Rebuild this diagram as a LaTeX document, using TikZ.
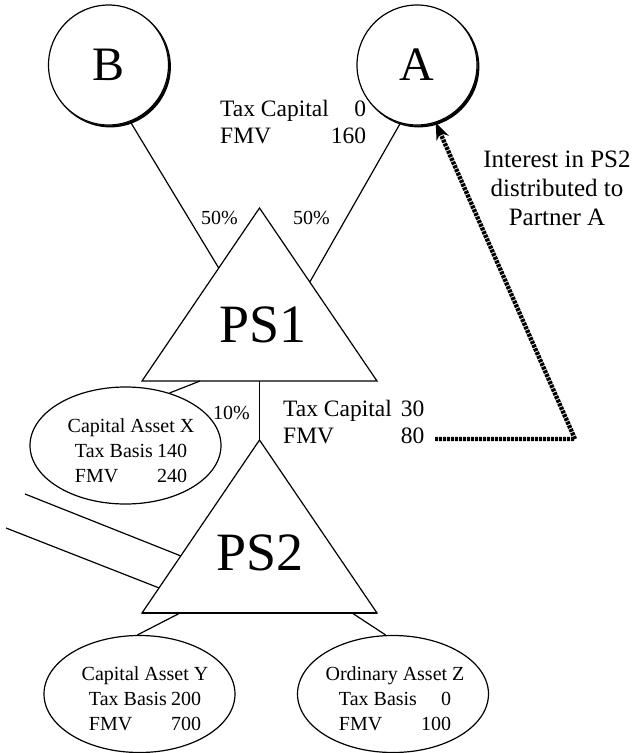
\documentclass[tikz,border=0pt]{standalone}
\usepackage{fontspec}
\setmainfont{Liberation Serif}
\usetikzlibrary{shapes.geometric,calc,arrows.meta}

\tikzset{
  partner/.style={circle, draw, line width=1.2pt, minimum size=120pt, inner sep=0pt,
    font=\fontsize{48}{50}\selectfont},
  asset/.style={ellipse, draw, line width=1.2pt, minimum width=191pt, minimum height=117pt, inner sep=0pt},
  assettext/.style={inner sep=0pt, anchor=base, font=\fontsize{20}{25}\selectfont},
  figtext/.style={inner sep=0pt, anchor=base west, font=\fontsize{23.5}{27}\selectfont},
  notetext/.style={inner sep=0pt, anchor=base, font=\fontsize{25}{29}\selectfont},
  pct/.style={inner sep=0pt, anchor=base west, font=\fontsize{20}{24}\selectfont},
  pslabel/.style={inner sep=0pt, anchor=base, font=\fontsize{54}{60}\selectfont},
  link/.style={line width=1.2pt},
  tri/.style={line width=1.2pt, line join=miter},
  transfer/.style={line width=4.4pt, dash pattern=on 3pt off 1pt,
    -{Stealth[length=17pt,width=13pt]}},
}
% asset card: title centred over a two-column block of figures
\newcommand\assetcard[5]{\begin{tabular}[t]{@{}l@{\hspace{4pt}}r@{}}
  \multicolumn{2}{@{}c@{}}{\makebox[0pt]{#1}}\\ #2 & #3\\ #4 & #5\end{tabular}}

\begin{document}
\begin{tikzpicture}[x=1pt, y=-1pt]
  \useasboundingbox (0,0) rectangle (636,753);

  % partners
  \node[partner] (B) at (108.5,65) {B};
  \node[partner] (A) at (417,65) {A};
  % heavier rim on the lower right of each partner circle
  \foreach \c in {A,B} {
    \begin{scope}
      \clip ($(\c)+(1.8pt,-1.8pt)$) circle[radius=60.6pt];
      \fill[even odd rule] ($(\c)+(1.8pt,-1.8pt)$) circle[radius=62pt]
        (\c) circle[radius=60.4pt];
    \end{scope}
  }

  % partnership triangles
  \coordinate (t1a) at (259.5,208);
  \coordinate (t1l) at (142,381);
  \coordinate (t1r) at (377,381);
  \coordinate (t2a) at (259.5,440);
  \coordinate (t2l) at (142,613);
  \coordinate (t2r) at (377,613);
  \draw[tri] (t1a) -- (t1r) -- (t1l) -- cycle;
  \draw[tri] (t2a) -- (t2r) -- (t2l) -- cycle;
  \draw[line width=2.4pt] (t2l) -- (t2r);
  \node[pslabel] (ps1) at (263,342) {PS1};
  \node[pslabel] (ps2) at (260,570) {PS2};

  % assets
  \node[asset] (X) at (125.5,445.5) {};
  \node[asset] (Y) at (139.5,694) {};
  \node[asset] (Z) at (393,694) {};
  \node[assettext] (Xt) at (131,432) {\assetcard{Capital Asset X}{Tax Basis}{140}{FMV}{240}};
  \node[assettext] (Yt) at (145,680) {\assetcard{Capital Asset Y}{Tax Basis}{200}{FMV}{700}};
  \node[assettext] (Zt) at (395,680) {\assetcard{Ordinary Asset Z}{Tax Basis}{0}{FMV}{100}};

  % ownership links
  \draw[link] (B.-69) -- ($(t1a)!0.347!(t1l)$);
  \draw[link] (A.-106) -- ($(t1a)!0.428!(t1r)$);
  \draw[link] ($(t1l)!0.247!(t1r)$) -- (X.50);
  \draw[link] ($(t1l)!0.5!(t1r)$) -- (t2a);
  \draw[link] ($(t2l)!0.162!(t2r)$) -- (Y.92);
  \draw[link] ($(t2l)!0.894!(t2r)$) -- (Z.97);
  \coordinate (f1) at (25,494);
  \coordinate (f2) at (6,528);
  \draw[link] (f1) -- ($(t2a)!0.67!(t2l)$);
  \draw[link] (f2) -- ($(t2a)!0.855!(t2l)$);

  % percentages and capital accounts
  \node[pct] (p50l) at (201,224) {50\%};
  \node[pct] (p50r) at (293,224) {50\%};
  \node[pct] (p10) at (213,419) {10\%};
  \node[figtext] (capA) at (220,116) {\begin{tabular}[t]{@{}l@{\hspace{2pt}}r@{}}
    Tax Capital & 0\\ FMV & 160\end{tabular}};
  \node[figtext] (capPS2) at (283,416) {\begin{tabular}[t]{@{}l@{\hspace{9pt}}r@{}}
    Tax Capital & 30\\ FMV & 80\end{tabular}};

  % distribution of the PS2 interest
  \node[notetext] (note) at (557,167) {\begin{tabular}[t]{@{}c@{}}
    Interest in PS2\\ distributed to\\ Partner A\end{tabular}};
  \coordinate (d0) at (435,439);
  \coordinate (d1) at (575,439);
  \draw[transfer] (d0) -- (d1) -- (A.-72);
\end{tikzpicture}
\end{document}
